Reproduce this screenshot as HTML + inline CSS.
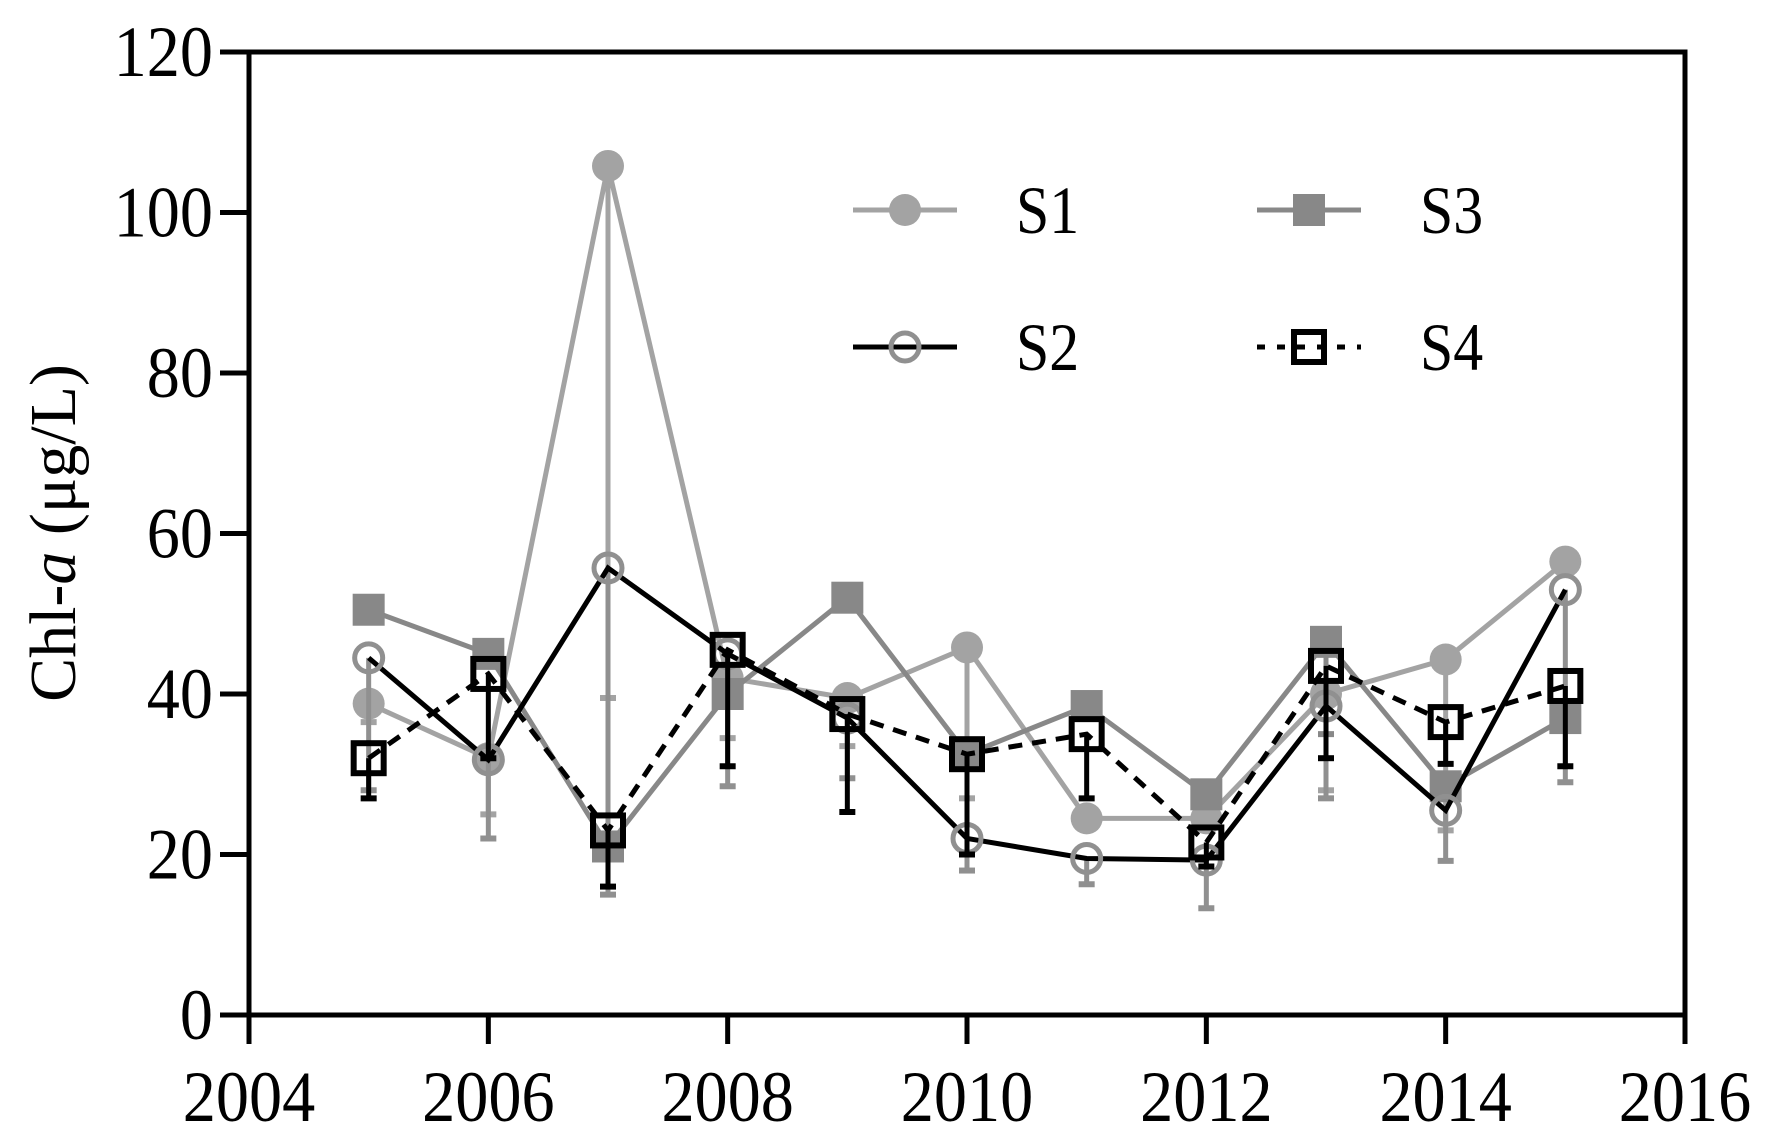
<!DOCTYPE html>
<html><head><meta charset="utf-8"><style>
html,body{margin:0;padding:0;background:#fff;}
svg{display:block;font-family:"Liberation Serif",serif;}
</style></head><body>
<svg id="chart" width="1774" height="1148" viewBox="0 0 1774 1148" xmlns="http://www.w3.org/2000/svg"></svg>
<script>
const years=[2005,2006,2007,2008,2009,2010,2011,2012,2013,2014,2015];
const s1=[38.8,32,105.8,42,39.5,45.8,24.5,24.5,40,44.3,56.5];
const s2=[44.5,31.8,55.7,45,37,22,19.5,19.3,38.5,25.5,53];
const s3=[50.5,45,21,40,52,32.5,38.5,27.5,46.5,28.5,37];
const s4=[32,42.5,23,45.5,37.5,32.5,35,21.5,43.5,36.5,41];
const s1Low=[36.5,25,39.5,34.5,33.5,27,24.5,24.5,28,23,56.5];
const s2Low=[28,22,15,28.5,29.5,18,16.3,13.3,27,19.2,29];
const s3Low=[50.5,45,36,40,52,32.5,38.5,27.5,35,28.5,37];
const s4Low=[27,32,16,31,25.3,20,27,18.5,32,31.3,31];
const xTicks=[2004,2006,2008,2010,2012,2014,2016];
const yTicks=[0,20,40,60,80,100,120];
const svg=document.getElementById('chart');
const NS='http://www.w3.org/2000/svg';
const L=249,R=1685,T=52,B=1015;
function X(v){return L+(v-2004)/12*(R-L);}
function Y(v){return B-v/120*(B-T);}
function mk(tag,attrs,parent){const e=document.createElementNS(NS,tag);for(const k in attrs)e.setAttribute(k,attrs[k]);(parent||svg).appendChild(e);return e;}
const ax=mk('g',{});


mk('rect',{x:L,y:T,width:R-L,height:B-T,fill:'none',stroke:'#000','stroke-width':5},ax);
yTicks.forEach(v=>{
  mk('line',{x1:L-29,x2:L,y1:Y(v),y2:Y(v),stroke:'#000','stroke-width':5},ax);
  const t=mk('text',{x:0,y:0,'text-anchor':'end','font-size':72,transform:'translate(213,'+(Y(v)+24)+') scale(0.92,1)'},ax);
  t.textContent=v;
  
  
});
xTicks.forEach(v=>{
  mk('line',{x1:X(v),x2:X(v),y1:B,y2:B+29,stroke:'#000','stroke-width':5},ax);
  const t=mk('text',{x:0,y:0,'text-anchor':'middle','font-size':72,transform:'translate('+X(v)+',1121) scale(0.92,1)'},ax);
  t.textContent=v;
  
  
});
const yt=mk('text',{x:0,y:0,'text-anchor':'middle','font-size':66,transform:'translate(75,533) rotate(-90)'});


yt.innerHTML='Chl-<tspan font-style="italic">a</tspan> (μg/L)';
const series=[
 {name:'s1',v:s1,lo:s1Low,line:'#a3a3a3',mark:'circle',fill:'#a3a3a3',ms:'#a3a3a3',err:'#a3a3a3',dash:null},
 {name:'s3',v:s3,lo:s3Low,line:'#888',mark:'square',fill:'#888',ms:'#888',err:'#888',dash:null},
 {name:'s2',v:s2,lo:s2Low,line:'#000',mark:'circle',fill:'none',ms:'#909090',err:'#909090',dash:null},
 {name:'s4',v:s4,lo:s4Low,line:'#000',mark:'square',fill:'none',ms:'#000',err:'#000',dash:'14 10'}
];
function marker(g,s,x,y){
  if(s.mark==='circle'){
    if(s.fill==='none') mk('circle',{cx:x,cy:y,r:14,fill:'none',stroke:s.ms,'stroke-width':5},g);
    else mk('circle',{cx:x,cy:y,r:16,fill:s.fill},g);
  } else {
    if(s.fill==='none') mk('rect',{x:x-15,y:y-15,width:30,height:30,fill:'none',stroke:s.ms,'stroke-width':6},g);
    else mk('rect',{x:x-16,y:y-16,width:32,height:32,fill:s.fill},g);
  }
}
series.forEach(s=>{
  const g=mk('g',{});
  
  
  s.v.forEach((v,i)=>{
    const x=X(years[i]);
    if(s.lo[i]<v){
      const e=mk('line',{x1:x,x2:x,y1:Y(v),y2:Y(s.lo[i]),stroke:s.err,'stroke-width':5},g);
      
      
      mk('line',{x1:x-8,x2:x+8,y1:Y(s.lo[i]),y2:Y(s.lo[i]),stroke:s.err,'stroke-width':6},g);
    }
  });
  const pts=s.v.map((v,i)=>X(years[i])+','+Y(v)).join(' ');
  const pl=mk('polyline',{points:pts,fill:'none',stroke:s.line,'stroke-width':5});
  if(s.dash)pl.setAttribute('stroke-dasharray',s.dash);
  g.appendChild(pl);
  
  
  s.v.forEach((v,i)=>{marker(g,s,X(years[i]),Y(v));});
});
const lg=mk('g',{});


const leg=[[0,'S1',853,210],[2,'S2',853,347],[1,'S3',1257,210],[3,'S4',1257,347]];
leg.forEach(([si,lab,x,y])=>{
  const s=series[si];
  const e=mk('g',{},lg);
  
  
  const ln=mk('line',{x1:x,x2:x+104,y1:y,y2:y,stroke:s.line,'stroke-width':5},e);
  if(s.dash)ln.setAttribute('stroke-dasharray','8 12');
  marker(e,s,x+52,y);
  const t=mk('text',{x:0,y:0,'font-size':68,transform:'translate('+(x+163)+','+(y+23)+') scale(0.88,1)'},e);
  t.textContent=lab;
});
</script>
</body></html>
